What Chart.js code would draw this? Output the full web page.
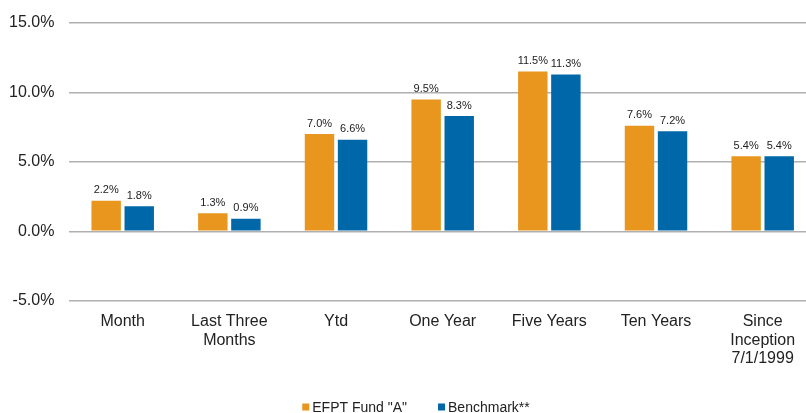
<!DOCTYPE html>
<html>
<head>
<meta charset="utf-8">
<script src="https://cdn.jsdelivr.net/npm/chart.js@4"></script>
<style>
  html, body { margin: 0; padding: 0; background: #fff; overflow: hidden; }
  #wrap { width: 806px; height: 413px; overflow: hidden; }
  #box { width: 816px; height: 413px; position: relative; }
</style>
</head>
<body>
<div id="wrap"><div id="box"><canvas id="chart"></canvas></div></div>
<script>
// categories and values
const categories = [
    "Month",
    ["Last Three", "Months"],
    "Ytd",
    "One Year",
    "Five Years",
    "Ten Years",
    ["Since", "Inception", "7/1/1999"]
];
const fundValues = [2.2, 1.3, 7.0, 9.5, 11.5, 7.6, 5.4];
const benchmarkValues = [1.8, 0.9, 6.6, 8.3, 11.3, 7.2, 5.4];
const yTicks = [-5, 0, 5, 10, 15];

const FONT = "'Liberation Sans', Arial, sans-serif";
const TEXT = "#222";

// write the value above each bar
const barLabels = {
    id: "barLabels",
    afterDatasetsDraw(chart) {
        const ctx = chart.ctx;
        ctx.save();
        ctx.font = "11px " + FONT;
        ctx.fillStyle = TEXT;
        ctx.textAlign = "center";
        ctx.textBaseline = "bottom";
        chart.data.datasets.forEach((ds, i) => {
            chart.getDatasetMeta(i).data.forEach((bar, j) => {
                ctx.fillText(ds.data[j].toFixed(1) + "%", bar.x, bar.y - 5);
            });
        });
        ctx.restore();
    }
};

// small legend at the bottom: tiny square, short gap, label
const bottomLegend = {
    id: "bottomLegend",
    afterDraw(chart) {
        const ctx = chart.ctx;
        const box = 7, gap = 3, itemGap = 31;
        ctx.save();
        ctx.font = "14px " + FONT;
        ctx.textBaseline = "middle";
        ctx.textAlign = "left";
        const items = chart.data.datasets.map((ds) => ({
            text: ds.label,
            color: ds.backgroundColor,
            w: box + gap + ctx.measureText(ds.label).width
        }));
        const total = items.reduce((s, it) => s + it.w, 0) + itemGap * (items.length - 1);
        let x = 416 - total / 2;
        const y = 407;
        items.forEach((it) => {
            ctx.fillStyle = it.color;
            ctx.fillRect(x, y - box / 2, box, box);
            ctx.fillStyle = TEXT;
            ctx.fillText(it.text, x + box + gap, y + 1);
            x += it.w + itemGap;
        });
        ctx.restore();
    }
};

const contexto = document.getElementById("chart");
const chart = new Chart(contexto, {
    type: "bar",
    data: {
        labels: categories,
        datasets: [
            {
                label: 'EFPT Fund "A"',
                data: fundValues,
                backgroundColor: "rgb(232, 150, 30)",
                barPercentage: 0.89,
                categoryPercentage: 0.62,
            },
            {
                label: "Benchmark**",
                data: benchmarkValues,
                backgroundColor: "rgb(0, 104, 168)",
                barPercentage: 0.89,
                categoryPercentage: 0.62,
            },
        ],
    },
    options: {
        responsive: true,
        maintainAspectRatio: false,
        animation: false,
        layout: { padding: { top: 11, right: 0, left: -6, bottom: 41 } },
        plugins: {
            tooltip: { enabled: false },
            legend: { display: false },
        },
        scales: {
            x: {
                grid: { display: false },
                border: { display: false },
                ticks: {
                    font: { family: FONT, size: 16, lineHeight: 1.15 },
                    color: TEXT,
                    maxRotation: 0,
                    autoSkip: false,
                    padding: 4,
                },
            },
            y: {
                min: yTicks[0],
                max: yTicks[yTicks.length - 1],
                afterBuildTicks(axis) {
                    axis.ticks = yTicks.map((v) => ({ value: v }));
                },
                grid: { color: "#b0b0b0", lineWidth: 1.5, drawTicks: false },
                border: { display: false },
                ticks: {
                    font: { family: FONT, size: 16, lineHeight: 1.0 },
                    color: TEXT,
                    padding: 15,
                    callback: (v) => v.toFixed(1) + "%",
                },
            },
        },
    },
    plugins: [barLabels, bottomLegend],
});
</script>
</body>
</html>
